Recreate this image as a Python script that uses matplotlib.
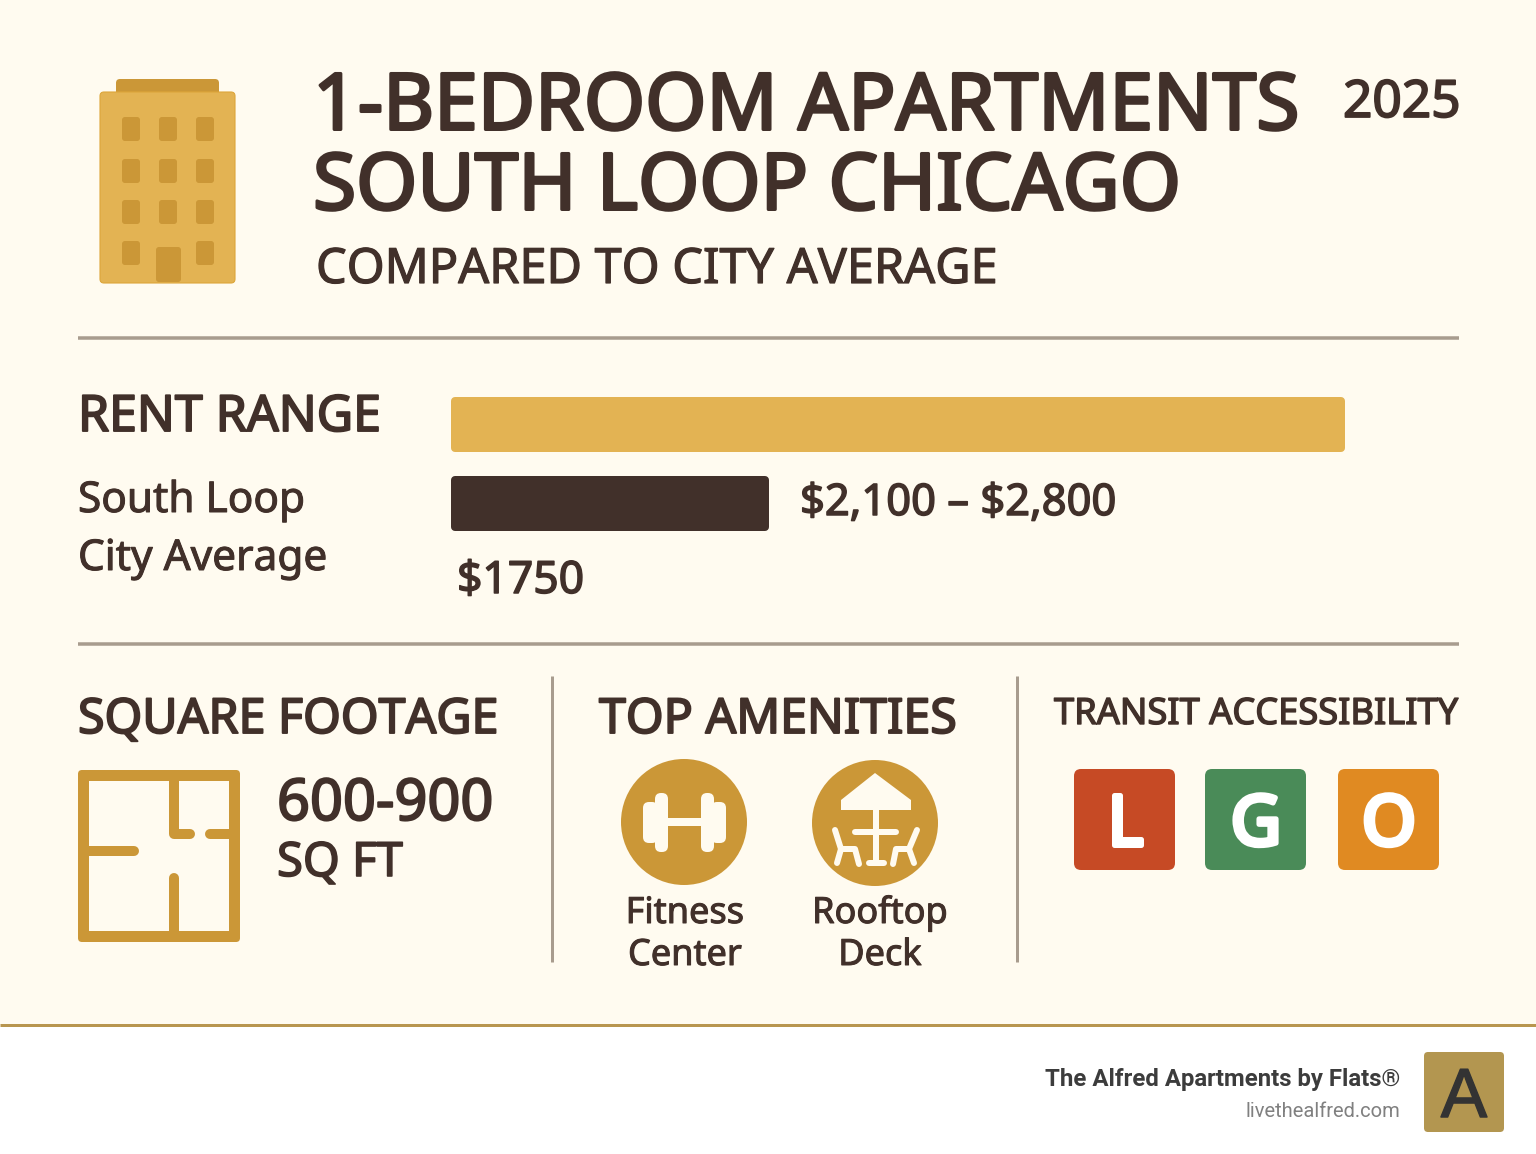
import matplotlib
matplotlib.use("Agg")
import matplotlib.pyplot as plt
import matplotlib.patheffects as pe
from matplotlib.patches import FancyBboxPatch, Circle, Polygon, Rectangle

# values
title_lines = ["1-BEDROOM APARTMENTS", "SOUTH LOOP CHICAGO"]
subtitle = "COMPARED TO CITY AVERAGE"
year = "2025"
rent_series = ["Range", "South Loop"]
rent_low = [2100, 2100]
rent_high = [4100, 2800]
rent_text = r"\$2,100 – \$2,800"
city_text = r"\$1750"
sqft_text = "600-900"
amenities = ["Fitness\nCenter", "Rooftop\nDeck"]
transit_lines = ["L", "G", "O"]
transit_colors = ["#C64A25", "#4A8B58", "#E08A22"]

CREAM = "#FFFBF0"
DARK = "#41302A"
GOLD = "#E3B353"
OCHRE = "#CB9737"
RULE = "#A89C8E"
FONT = "Noto Sans"

W, H = 1536, 1154
fig = plt.figure(figsize=(W / 100, H / 100), dpi=100, facecolor="white")
ax = fig.add_axes([0, 0, 1, 1])
ax.set_xlim(0, W)
ax.set_ylim(H, 0)
ax.axis("off")


def px(n):
    return n * 72 / 100  # pixels to points


def label(x, y, s, size, heavy=1.5, ha="left", color=DARK, family=FONT, weight="normal", **kw):
    # Noto Sans only comes in regular here, so thicken it with an outline
    t = ax.text(x, y, s, fontsize=size, fontweight=weight, ha=ha, va="baseline",
                color=color, family=family, **kw)
    if heavy > 0:
        t.set_path_effects([pe.withStroke(linewidth=px(heavy), foreground=color)])
    return t


def rbox(x0, y0, x1, y1, r, fc, ec="none", lw=0, z=2):
    p = FancyBboxPatch((x0 + r, y0 + r), x1 - x0 - 2 * r, y1 - y0 - 2 * r,
                       boxstyle="round,pad=%s,rounding_size=%s" % (r, r),
                       fc=fc, ec=ec, lw=lw, zorder=z)
    ax.add_patch(p)


def stroke(xs, ys, w, color, z=3, cap="round"):
    ax.plot(xs, ys, color=color, lw=px(w), solid_capstyle=cap, solid_joinstyle="round", zorder=z)


# backgrounds
ax.add_patch(Rectangle((0, 0), W, 1025, fc=CREAM, ec="none", zorder=0))
ax.plot([0, W], [1025, 1025], color="#B8964F", lw=px(3), zorder=1, solid_capstyle="butt")

# building icon
rbox(116, 79, 219, 100, 4, OCHRE)
rbox(100, 92, 235, 283, 4, GOLD, ec="#DDA63A", lw=0.8, z=3)
for wy in [117, 159, 200]:
    for wx in [122, 159, 196]:
        rbox(wx, wy, wx + 18, wy + 24, 3, OCHRE, z=4)
rbox(122, 241, 140, 265, 3, OCHRE, z=4)
rbox(196, 241, 214, 265, 3, OCHRE, z=4)
rbox(156, 247, 181, 282, 3, OCHRE, z=4)

# header
label(313, 129.5, title_lines[0], 56.5, heavy=3)
label(313, 209.5, title_lines[1], 56.5, heavy=3)
label(1343, 117, year, 37, heavy=1.8)
label(316, 283, subtitle, 35, heavy=1.2)

# rules
for ry in [338, 644]:
    ax.plot([78, 1459], [ry, ry], color=RULE, lw=px(3.5), zorder=1, solid_capstyle="butt")
for rx in [552, 1017]:
    ax.plot([rx, rx], [676, 962], color=RULE, lw=px(3), zorder=1, solid_capstyle="butt")

# rent section
label(78, 431, "RENT RANGE", 36, heavy=1.9)
label(78, 512, "South Loop", 30.5, heavy=1)
label(78, 570, "City Average", 30.5, heavy=1)
label(800, 515, rent_text, 31.3, heavy=1.5)
label(457, 593, city_text, 32, heavy=1.5)

bar_scale = 310 / 700  # pixels per dollar
bar_ax = fig.add_axes([451 / W, 1 - 543 / H, 894 / W, 158 / H])
bar_ax.set_xlim(2100 - 4 / bar_scale, 2100 + 890 / bar_scale)
bar_ax.set_ylim(1.5, -0.5)
bar_ax.axis("off")
bar_ax.patch.set_alpha(0)
widths = [h - l for l, h in zip(rent_low, rent_high)]
bar_ax.barh([0, 1], widths, left=rent_low, height=0.595, color=[GOLD, DARK],
            edgecolor=[GOLD, DARK], linewidth=px(8), joinstyle="round")

# square footage
label(78, 733, "SQUARE FOOTAGE", 34.8, heavy=1.9)
rbox(78, 770, 240, 942, 4, OCHRE, z=2)
ax.add_patch(Rectangle((89, 781), 140, 150, fc=CREAM, ec="none", zorder=3))
stroke([174, 174, 190], [775, 834, 834], 10, OCHRE, z=4)
stroke([210, 235], [834, 834], 10, OCHRE, z=4)
stroke([84, 134], [851, 851], 10, OCHRE, z=4)
stroke([174, 174], [878, 937], 10, OCHRE, z=4)
label(277, 820, sqft_text, 41.5, heavy=2)
label(277, 876, "SQ FT", 34, heavy=1.6)

# amenities
label(599, 733, "TOP AMENITIES", 34.8, heavy=1.9)
ax.add_patch(Circle((684, 822), 63, fc=OCHRE, ec="none", zorder=2))
ax.add_patch(Circle((875, 823), 63, fc=OCHRE, ec="none", zorder=2))

ax.add_patch(Rectangle((665, 818), 40, 8, fc=CREAM, ec="none", zorder=3))
rbox(655, 793, 668, 852, 6, CREAM, z=3)
rbox(701, 793, 714, 852, 6, CREAM, z=3)
rbox(643, 802, 658, 843, 6, CREAM, z=3)
rbox(711, 802, 726, 843, 6, CREAM, z=3)

ax.add_patch(Polygon([(875, 773), (911, 800), (911, 810), (841, 810), (841, 800)],
                     fc=CREAM, ec="none", zorder=3))
stroke([876, 876], [808, 863], 6, CREAM, cap="butt")
stroke([855, 896], [832, 832], 6, CREAM)
stroke([869, 884], [863, 863], 6, CREAM)
stroke([835, 841, 855, 859], [830, 849, 849, 864], 6, CREAM)
stroke([841, 837], [849, 863], 6, CREAM)
stroke([917, 909, 896, 893], [830, 849, 849, 864], 6, CREAM)
stroke([909, 914], [849, 863], 6, CREAM)

for cx, s in zip([685, 880], amenities):
    first, second = s.split("\n")
    label(cx, 923, first, 26, heavy=1, ha="center")
    label(cx, 965, second, 26, heavy=1, ha="center")

# transit
label(1054, 724, "TRANSIT ACCESSIBILITY", 26.1, heavy=1.4)
for x0, s, c in zip([1074, 1205, 1338], transit_lines, transit_colors):
    rbox(x0, 769, x0 + 101, 870, 7, c)
    label(x0 + 51, 845, s, 50, heavy=5, ha="center", color="white", zorder=4)

# footer
label(1400, 1086, "The Alfred Apartments by Flats®", 17.3, heavy=0, weight="bold", ha="right",
      color="#3C3C3C", family="Roboto")
label(1400, 1117, "livethealfred.com", 14.5, heavy=0, ha="right",
      color="#808080", family="Roboto")
rbox(1424, 1052, 1504, 1132, 4, "#B39650")
label(1464, 1117, "A", 50, heavy=1.5, ha="center", color="#333333", family="Liberation Sans", zorder=4)

fig.savefig("out.png", dpi=100)
